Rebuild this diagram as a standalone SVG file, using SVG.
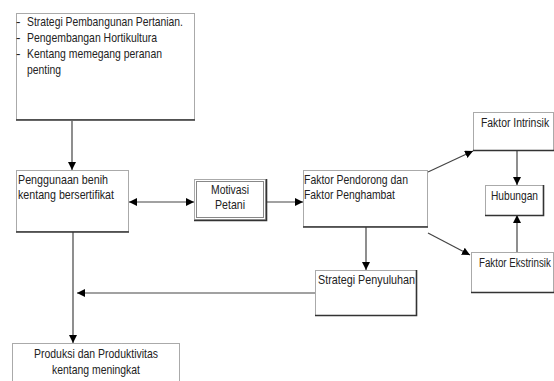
<svg xmlns="http://www.w3.org/2000/svg" width="554" height="381" viewBox="0 0 554 381">
<defs>
<marker id="ah" viewBox="0 0 10 10" refX="10" refY="5" markerWidth="8" markerHeight="8" markerUnits="userSpaceOnUse" orient="auto-start-reverse">
<path d="M0,0 L10,5 L0,10 Z" fill="#000"/>
</marker>
<style>
.box{fill:#fff;stroke:#555;stroke-width:1;stroke-dasharray:1 1}
.sh{fill:none;stroke:#333;stroke-width:1.6}
.t{font-family:"Liberation Sans",Arial,sans-serif;font-size:13.5px;fill:#222}
.c{text-anchor:middle}
.ln{fill:none;stroke:#444;stroke-width:1.2}
.a{marker-end:url(#ah)}
.aa{marker-start:url(#ah);marker-end:url(#ah)}
</style>
</defs>
<rect width="554" height="381" fill="#fff"/>

<g id="connectors">
<line class="ln a" x1="72" y1="121" x2="72" y2="170"/>
<line class="ln aa" x1="129" y1="202" x2="194" y2="202"/>
<line class="ln a" x1="266" y1="202" x2="303" y2="202"/>
<line class="ln a" x1="428" y1="172" x2="473" y2="151"/>
<line class="ln a" x1="428" y1="233" x2="470" y2="255"/>
<line class="ln a" x1="517" y1="151" x2="517" y2="185"/>
<line class="ln a" x1="517" y1="252" x2="517" y2="215"/>
<line class="ln a" x1="366" y1="227" x2="366" y2="270"/>
<line class="ln a" x1="315" y1="293" x2="77" y2="293"/>
<line class="ln a" x1="73" y1="232" x2="73" y2="343"/>
</g>

<g id="n-strategi-pembangunan">
<rect class="box" x="16.5" y="13.5" width="178" height="106"/>
<path class="sh" d="M16,120 H195"/>
<text class="t" x="16" y="26">-</text>
<text class="t" x="27" y="26" textLength="156" lengthAdjust="spacingAndGlyphs">Strategi Pembangunan Pertanian.</text>
<text class="t" x="16" y="42">-</text>
<text class="t" x="27" y="42" textLength="130" lengthAdjust="spacingAndGlyphs">Pengembangan Hortikultura</text>
<text class="t" x="16" y="58">-</text>
<text class="t" x="27" y="58" textLength="135" lengthAdjust="spacingAndGlyphs">Kentang memegang peranan</text>
<text class="t" x="27" y="74" textLength="34" lengthAdjust="spacingAndGlyphs">penting</text>
</g>

<g id="n-penggunaan">
<rect class="box" x="16.5" y="170.5" width="112" height="61"/>
<path class="sh" d="M16,232 H129"/>
<text class="t" x="18" y="184" textLength="90" lengthAdjust="spacingAndGlyphs">Penggunaan benih</text>
<text class="t" x="18" y="199" textLength="96" lengthAdjust="spacingAndGlyphs">kentang bersertifikat</text>
</g>

<g id="n-motivasi">
<rect class="box" x="194.5" y="179.5" width="71" height="40"/>
<rect x="196.5" y="181.5" width="67" height="36" fill="none" stroke="#888" stroke-width="1"/>
<path class="sh" d="M194,220.5 H266.5 V179" stroke="#555"/>
<text class="t c" x="230" y="194" textLength="38" lengthAdjust="spacingAndGlyphs" fill="#444">Motivasi</text>
<text class="t c" x="230" y="209" textLength="30" lengthAdjust="spacingAndGlyphs" fill="#444">Petani</text>
</g>

<g id="n-faktor-pendorong">
<rect class="box" x="303.5" y="170.5" width="124" height="56"/>
<path class="sh" d="M303,227 H428"/>
<text class="t" x="304" y="184" textLength="104" lengthAdjust="spacingAndGlyphs">Faktor Pendorong dan</text>
<text class="t" x="304" y="199" textLength="91" lengthAdjust="spacingAndGlyphs">Faktor Penghambat</text>
</g>

<g id="n-faktor-intrinsik">
<rect class="box" x="473.5" y="112.5" width="80" height="38"/>
<path class="sh" d="M473,150.5 H554"/>
<text class="t" transform="translate(481,127) scale(0.77,1)">Faktor Intrinsik</text>
</g>

<g id="n-hubungan">
<rect class="box" x="485.5" y="185.5" width="58" height="30"/>
<path class="sh" d="M485,215.5 H543.5 V185"/>
<text class="t" x="491" y="200" textLength="47" lengthAdjust="spacingAndGlyphs">Hubungan</text>
</g>

<g id="n-faktor-ekstrinsik">
<rect class="box" x="471.5" y="252.5" width="82" height="40"/>
<path class="sh" d="M471,292.5 H554"/>
<text class="t" transform="translate(479,267) scale(0.72,1)">Faktor Ekstrinsik</text>
</g>

<g id="n-strategi-penyuluhan">
<rect class="box" x="315.5" y="270.5" width="101" height="45"/>
<path class="sh" d="M315,315.5 H416.5 V270"/>
<text class="t" x="318" y="284" textLength="97" lengthAdjust="spacingAndGlyphs">Strategi Penyuluhan</text>
</g>

<g id="n-produksi">
<rect class="box" x="12.5" y="343.5" width="167" height="50"/>
<text class="t c" x="96" y="358" textLength="124" lengthAdjust="spacingAndGlyphs">Produksi dan Produktivitas</text>
<text class="t c" x="96" y="374" textLength="88" lengthAdjust="spacingAndGlyphs">kentang meningkat</text>
</g>
</svg>
